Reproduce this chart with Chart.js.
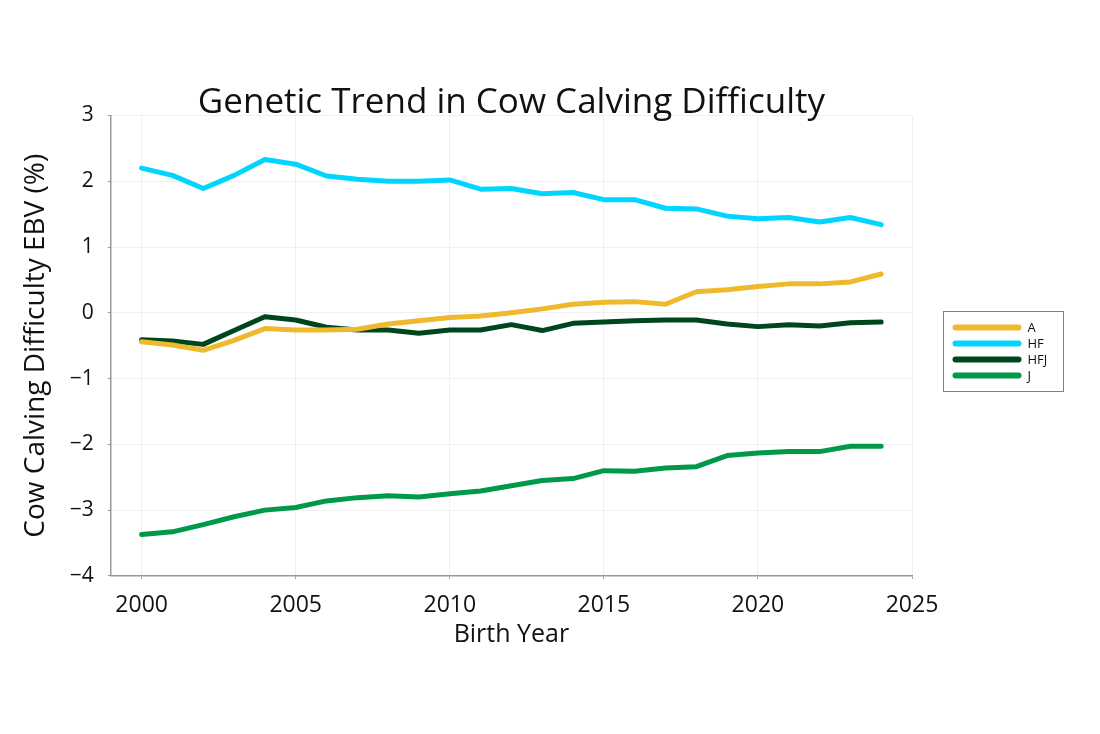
<!DOCTYPE html>
<html>
<head>
<meta charset="utf-8">
<script src="https://cdn.jsdelivr.net/npm/chart.js@4/dist/chart.umd.min.js"></script>
<style>
html,body{margin:0;padding:0;background:#fff}
#wrap{width:1100px;height:734px}
</style>
</head>
<body>
<div id="wrap"><canvas id="c" width="1100" height="734"></canvas></div>
<script>
'use strict';

/* ═══════════ DATA ═══════════ */
var years=[2000,2001,2002,2003,2004,2005,2006,2007,2008,2009,2010,2011,2012,2013,2014,2015,2016,2017,2018,2019,2020,2021,2022,2023,2024];
var xTicks=[2000,2005,2010,2015,2020,2025];
var seriesA=[-0.44,-0.49,-0.57,-0.42,-0.24,-0.26,-0.26,-0.25,-0.17,-0.12,-0.07,-0.05,0.00,0.06,0.13,0.16,0.17,0.13,0.32,0.35,0.40,0.44,0.44,0.47,0.59];
var seriesHF=[2.20,2.09,1.89,2.09,2.33,2.26,2.08,2.03,2.00,2.00,2.02,1.88,1.89,1.81,1.83,1.72,1.72,1.59,1.58,1.47,1.43,1.45,1.38,1.45,1.34];
var seriesHFJ=[-0.41,-0.43,-0.48,-0.27,-0.06,-0.11,-0.22,-0.26,-0.26,-0.31,-0.26,-0.26,-0.18,-0.27,-0.16,-0.14,-0.12,-0.11,-0.11,-0.17,-0.21,-0.18,-0.20,-0.15,-0.14];
var seriesJ=[-3.37,-3.33,-3.22,-3.10,-3.00,-2.96,-2.86,-2.81,-2.78,-2.80,-2.75,-2.71,-2.63,-2.55,-2.52,-2.40,-2.41,-2.36,-2.34,-2.17,-2.13,-2.11,-2.11,-2.03,-2.03];
var seriesNames=['A','HF','HFJ','J'];
var seriesCols=['#EEB92D','#00D5FF','#00461C','#00994A'];

var FONT='"Open Sans", Lato, sans-serif';

function pts(vals){return years.map(function(y,i){return {x:y,y:vals[i]}})}

/* ═══════════ LEGEND (boxed, line samples) ═══════════ */
var boxLegend={id:'boxLegend',
  afterDraw:function(ch){var ctx=ch.ctx,ds=ch.data.datasets;
    var bx=943.5,by=311.5,bw=120,bh=80;
    ctx.save();
    ctx.strokeStyle='#7f7f7f';ctx.lineWidth=1;ctx.strokeRect(bx,by,bw,bh);
    ctx.font='13px '+FONT;ctx.textBaseline='middle';ctx.textAlign='left';
    ds.forEach(function(d,i){var yy=by+16+i*16;
      ctx.beginPath();ctx.lineCap='round';ctx.lineWidth=6;ctx.strokeStyle=d.borderColor;
      ctx.moveTo(bx+12,yy);ctx.lineTo(bx+75,yy);ctx.stroke();
      ctx.fillStyle='#111';ctx.fillText(d.label,bx+84,yy+1)});
    ctx.restore()}};

var ds=[seriesA,seriesHF,seriesHFJ,seriesJ].map(function(v,i){
  return {label:seriesNames[i],data:pts(v),borderColor:seriesCols[i],backgroundColor:seriesCols[i],
    borderWidth:5,pointRadius:0,tension:0,borderCapStyle:'round',borderJoinStyle:'round'}});

new Chart(document.getElementById('c'),{type:'line',data:{datasets:ds},plugins:[boxLegend],
  options:{responsive:false,animation:false,
    layout:{padding:{left:21,right:188,top:84,bottom:85}},
    plugins:{legend:{display:false},tooltip:{enabled:false},
      title:{display:true,text:'Genetic Trend in Cow Calving Difficulty',fullSize:false,color:'#111',
        font:{family:FONT,size:35,weight:'normal',lineHeight:1.1},padding:{top:0,bottom:-7}}},
    scales:{
      x:{type:'linear',min:1999,max:2025,
        afterBuildTicks:function(s){s.ticks=xTicks.map(function(v){return {value:v}})},
        ticks:{color:'#111',font:{family:FONT,size:23},padding:13,maxRotation:0,autoSkip:false,
          callback:function(v){return String(v)}},
        grid:{color:'#f0f0f0',tickColor:'#999',tickLength:3},
        border:{color:'#999',width:1.5},
        title:{display:true,text:'Birth Year',color:'#111',font:{family:FONT,size:25,lineHeight:1.1},padding:{top:-11,bottom:0}}},
      y:{min:-4,max:3,
        ticks:{stepSize:1,color:'#111',font:{family:FONT,size:21},padding:14,
          callback:function(v){return String(v).replace('-','\u2212')}},
        grid:{color:'#f0f0f0',tickColor:'#999',tickLength:3},
        border:{color:'#999',width:1.5},
        title:{display:true,text:'Cow Calving Difficulty EBV (%)',color:'#111',font:{family:FONT,size:28,lineHeight:1.1},padding:{top:0,bottom:4}}}}}});
</script>
</body>
</html>
